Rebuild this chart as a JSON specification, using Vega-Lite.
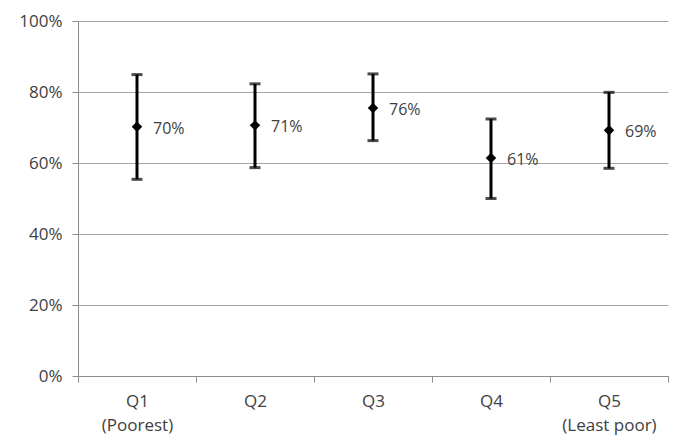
{
  "$schema": "https://vega.github.io/schema/vega-lite/v6.json",
  "width": 590,
  "height": 355,
  "autosize": {"type": "none"},
  "padding": {"left": 78, "top": 21, "right": 17, "bottom": 69},
  "background": "white",
  "config": {
    "view": {"stroke": null},
    "font": "Open Sans",
    "axis": {
      "labelFont": "Open Sans",
      "labelFontSize": 17,
      "labelColor": "#404040",
      "domainColor": "#8c8c8c",
      "tickColor": "#8c8c8c",
      "gridColor": "#a6a6a6",
      "title": null
    }
  },
  "data": {
    "values": [
      {"q": "Q1", "value": 0.702, "lower": 0.554, "upper": 0.849, "label": "70%"},
      {"q": "Q2", "value": 0.706, "lower": 0.587, "upper": 0.823, "label": "71%"},
      {"q": "Q3", "value": 0.755, "lower": 0.663, "upper": 0.851, "label": "76%"},
      {"q": "Q4", "value": 0.614, "lower": 0.500, "upper": 0.724, "label": "61%"},
      {"q": "Q5", "value": 0.692, "lower": 0.585, "upper": 0.799, "label": "69%"}
    ]
  },
  "encoding": {
    "x": {
      "field": "q",
      "type": "nominal",
      "sort": null,
      "scale": {"paddingInner": 0, "paddingOuter": 0},
      "axis": {
        "labelAngle": 0,
        "tickBand": "extent",
        "tickSize": 6,
        "labelPadding": 11,
        "labelLineHeight": 24,
        "labelExpr": "datum.label == 'Q1' ? ['Q1', '(Poorest)'] : datum.label == 'Q5' ? ['Q5', '(Least poor)'] : datum.label"
      }
    }
  },
  "layer": [
    {
      "mark": {"type": "rule", "color": "black", "strokeWidth": 3},
      "encoding": {
        "y": {
          "field": "lower",
          "type": "quantitative",
          "scale": {"domain": [0, 1]},
          "axis": {
            "format": ".0%",
            "values": [0, 0.2, 0.4, 0.6, 0.8, 1],
            "tickSize": 6,
            "labelPadding": 10,
            "grid": true
          }
        },
        "y2": {"field": "upper"}
      }
    },
    {
      "mark": {"type": "tick", "color": "black", "thickness": 3, "size": 11, "orient": "horizontal"},
      "encoding": {"y": {"field": "lower", "type": "quantitative"}}
    },
    {
      "mark": {"type": "tick", "color": "black", "thickness": 3, "size": 11, "orient": "horizontal"},
      "encoding": {"y": {"field": "upper", "type": "quantitative"}}
    },
    {
      "mark": {"type": "point", "shape": "diamond", "filled": true, "color": "black", "size": 110, "opacity": 1},
      "encoding": {"y": {"field": "value", "type": "quantitative"}}
    },
    {
      "mark": {"type": "text", "align": "left", "baseline": "middle", "dx": 16, "dy": 2, "fontSize": 16, "color": "#404040", "font": "Open Sans"},
      "encoding": {
        "y": {"field": "value", "type": "quantitative"},
        "text": {"field": "label"}
      }
    }
  ]
}
